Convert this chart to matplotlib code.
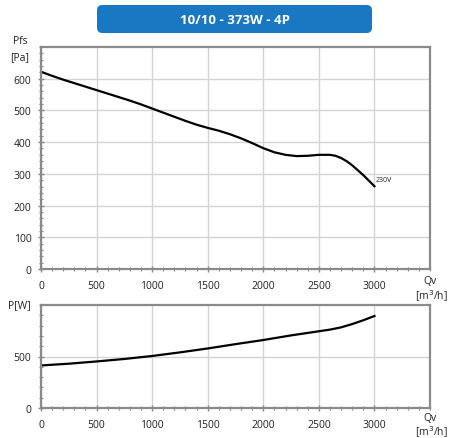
import matplotlib
matplotlib.use("Agg")
import matplotlib.pyplot as plt
from matplotlib.patches import FancyBboxPatch
from matplotlib.ticker import MultipleLocator

title = "10/10 - 373W - 4P"
curve_label = "230V"

qv_p = [0, 100, 200, 300, 400, 500, 600, 700, 800, 900, 1000, 1100, 1200, 1300, 1400,
        1500, 1600, 1700, 1800, 1900, 2000, 2100, 2200, 2300, 2400, 2500, 2600, 2650,
        2700, 2750, 2800, 2900, 3000]
pfs = [622, 609, 597, 586, 575, 564, 553, 542, 531, 519, 506, 493, 480, 467, 455,
       445, 436, 425, 412, 397, 381, 368, 360, 356, 357, 360, 360, 357,
       350, 340, 327, 296, 261]

qv_w = [0, 250, 500, 750, 1000, 1250, 1500, 1750, 2000, 2250, 2500, 2600, 2700, 2800, 2900, 3000]
pw = [413, 430, 452, 476, 505, 540, 578, 620, 660, 705, 745, 761, 783, 815, 852, 893]

x_ticks = [0, 500, 1000, 1500, 2000, 2500, 3000]
y_ticks_top = [0, 100, 200, 300, 400, 500, 600]
y_ticks_bot = [0, 500]

W, H = 449, 439
fig = plt.figure(figsize=(W / 100, H / 100), dpi=100)
plt.rcParams['font.family'] = ['Open Sans', 'DejaVu Sans']

def fx(px):
    return px / W

def fy(py):
    return 1 - py / H

spine_c = "#8a8a8a"
grid_c = "#d4d4d4"
txt_c = "#222222"

def style(ax, ymax, yticks, yminor):
    ax.set_xlim(0, 3500)
    ax.set_ylim(0, ymax)
    ax.set_xticks(x_ticks)
    ax.set_yticks(yticks)
    ax.xaxis.set_minor_locator(MultipleLocator(100))
    ax.yaxis.set_minor_locator(MultipleLocator(yminor))
    ax.grid(True, which="major", color=grid_c, lw=1.0)
    ax.set_axisbelow(True)
    for s in ax.spines.values():
        s.set_color(spine_c)
        s.set_linewidth(1.6)
    ax.tick_params(which="both", direction="inout", color=spine_c, labelsize=7.5, labelcolor=txt_c)
    ax.tick_params(which="major", length=4, width=1)
    ax.tick_params(which="minor", length=3, width=0.8)
    ax.tick_params(axis="x", pad=6)
    ax.tick_params(axis="y", pad=5)

ax1 = fig.add_axes([fx(41), fy(270), fx(430 - 41), (270 - 48) / H])
style(ax1, 700, y_ticks_top, 20)
ax1.plot(qv_p, pfs, color="black", lw=1.6, solid_joinstyle="round")
ax1.text(qv_p[-1] + 15, pfs[-1] + 22, curve_label, fontsize=5, color=txt_c, va="center", ha="left")

ax2 = fig.add_axes([fx(41), fy(409), fx(430 - 41), (409 - 306) / H])
style(ax2, 1000, y_ticks_bot, 100)
ax2.plot(qv_w, pw, color="black", lw=1.6, solid_joinstyle="round")

# axis labels
fig.text(fx(20), fy(41), "Pfs", fontsize=7.5, color=txt_c, ha="center", va="center")
fig.text(fx(20), fy(58), "[Pa]", fontsize=7.5, color=txt_c, ha="center", va="center")
fig.text(fx(19), fy(306), "P[W]", fontsize=7.5, color=txt_c, ha="center", va="center")
for yq, ym in [(281, 296), (419, 432)]:
    fig.text(fx(430), fy(yq), "Qv", fontsize=7.5, color=txt_c, ha="center", va="center")
    fig.text(fx(431), fy(ym), "[m$^3$/h]", fontsize=7.5, color=txt_c, ha="center", va="center")

# title box
box = FancyBboxPatch((fx(97), fy(34)), fx(372 - 97), (34 - 6) / H,
                     boxstyle="round,pad=0.0,rounding_size=0.012",
                     transform=fig.transFigure, facecolor="#1a78c2", edgecolor="none")
fig.patches.append(box)
fig.text(fx(235), fy(20), title, fontsize=9.5, fontweight="bold", color="white", ha="center", va="center")

fig.savefig("out.png", dpi=100)
